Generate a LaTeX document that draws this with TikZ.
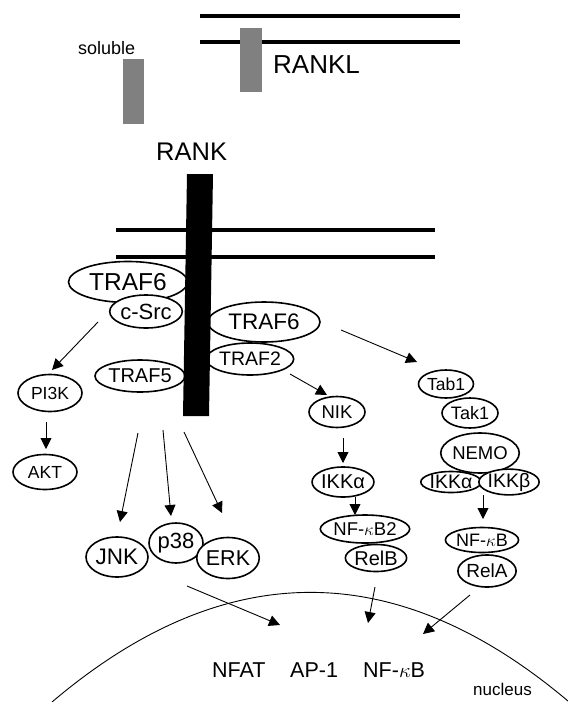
\documentclass[tikz,border=0pt]{standalone}
\usepackage{fontspec}
\setmainfont{Liberation Sans}
\usetikzlibrary{shapes.geometric,arrows.meta}
\newcommand{\fs}[1]{\fontsize{#1}{#1}\selectfont}
\begin{document}
\begin{tikzpicture}[x=1pt,y=-1pt,
  mol/.style={ellipse, draw, line width=1.6pt, fill=white, inner sep=0pt},
  memb/.style={line width=4pt},
  arr/.style={line width=0.9pt, -{Triangle[length=11pt,width=11pt]}},
  lbl/.style={inner sep=0pt, anchor=base west},
  grayrect/.style={fill=black!50}]
\useasboundingbox (0,0) rectangle (568,702);

% membranes
\draw[memb] (200,16) -- (460,16);
\draw[memb] (200,41.5) -- (460,41.5);
\draw[memb] (116,230) -- (435,230);
\draw[memb] (116,256.5) -- (435,256.5);

% RANKL / soluble
\fill[grayrect] (240,28) rectangle (262,92);
\fill[grayrect] (123,59) rectangle (144,124);
\node[lbl, font=\fs{18}] (sol) at (78,54) {soluble};
\node[lbl, font=\fs{26}] (rankl) at (273,73) {RANKL};
\node[lbl, font=\fs{25.5}] (rank) at (156,160) {RANK};

% adaptor molecules near receptor
\node[mol, minimum width=119pt, minimum height=41pt, font=\fs{24.5}] (traf6a) at (128,282) {TRAF6};
\node[mol, minimum width=65pt, minimum height=33pt, font=\fs{22}] (csrc) at (146,311.5) {c-Src};
\node[mol, minimum width=112pt, minimum height=40pt, font=\fs{22.5}] (traf6b) at (264,322) {TRAF6};
\node[mol, minimum width=85pt, minimum height=32pt, font=\fs{19.5}] (traf2) at (250,359) {TRAF2};
\node[mol, minimum width=90pt, minimum height=32pt, font=\fs{20}] (traf5) at (140,376) {TRAF5};

% RANK bar
\fill (187,174) -- (213,174) -- (209,416) -- (183,416) -- cycle;

% PI3K branch
\node[mol, minimum width=64pt, minimum height=37pt, font=\fs{17.5}] (pi3k) at (50,393) {PI3K};
\node[mol, minimum width=64pt, minimum height=35pt, font=\fs{17.5}] (akt) at (45,472) {AKT};

% NIK branch
\node[mol, minimum width=56pt, minimum height=31pt, font=\fs{18.5}] (nik) at (337,412) {NIK};
\node[mol, minimum width=57pt, minimum height=30pt, font=\fs{20}] (ikka1) at (343,482) {IKKα};
\node[mol, minimum width=76pt, minimum height=28pt, font=\fs{18.5}] (nfkb2) at (365,529) {NF-$\kappa$B2};
\node[mol, minimum width=55pt, minimum height=27pt, font=\fs{20}] (relb) at (376,558) {RelB};

% Tab1 branch
\node[mol, minimum width=55pt, minimum height=28pt, font=\fs{17.5}] (tab1) at (446,384) {Tab1};
\node[mol, minimum width=56pt, minimum height=30pt, font=\fs{18}] (tak1) at (470,413) {Tak1};
\node[mol, minimum width=70pt, minimum height=40pt, font=\fs{18.5}] (nemo) at (480,453) {NEMO};
\node[mol, minimum width=57pt, minimum height=21pt, font=\fs{19.5}] (ikka2) at (451,482) {IKKα};
\node[mol, minimum width=55pt, minimum height=21pt, font=\fs{19.5}] (ikkb) at (509,482) {IKKβ};
\node[mol, minimum width=70pt, minimum height=25pt, font=\fs{18}] (nfkb) at (482,540) {NF-$\kappa$B};
\node[mol, minimum width=58pt, minimum height=32pt, font=\fs{19}] (rela) at (487,571) {RelA};

% MAPKs
\node[mol, minimum width=54pt, minimum height=40pt, font=\fs{22}] (p38) at (176,543) {p38};
\node[mol, minimum width=62pt, minimum height=40pt, font=\fs{22.5}] (jnk) at (117,557) {JNK};
\node[mol, minimum width=60pt, minimum height=41pt, font=\fs{21.5}] (erk) at (228,558) {ERK};

% arrow end points
\coordinate (c1) at (98,322);   \coordinate (c1e) at (52,370);
\coordinate (c2) at (46,422);   \coordinate (c2e) at (46,449);
\coordinate (c3) at (290,374);  \coordinate (c3e) at (327,395);
\coordinate (c4) at (341,330);  \coordinate (c4e) at (417,362);
\coordinate (c5) at (343,438);  \coordinate (c5e) at (343,463);
\coordinate (c6) at (355,497);  \coordinate (c6e) at (355,515);
\coordinate (c7) at (483,495);  \coordinate (c7e) at (483,519);
\coordinate (c8) at (138,433);  \coordinate (c8e) at (120,522);
\coordinate (c9) at (163,430);  \coordinate (c9e) at (171,516);
\coordinate (c10) at (184,432); \coordinate (c10e) at (222,513);
\coordinate (c11) at (187,586); \coordinate (c11e) at (280,625);
\coordinate (c12) at (375,587); \coordinate (c12e) at (368,623);
\coordinate (c13) at (470,595); \coordinate (c13e) at (423,634);

\draw[arr] (c1) -- (c1e);
\draw[arr] (c2) -- (c2e);
\draw[arr] (c3) -- (c3e);
\draw[arr] (c4) -- (c4e);
\draw[arr] (c5) -- (c5e);
\draw[arr] (c6) -- (c6e);
\draw[arr] (c7) -- (c7e);
\draw[arr] (c8) -- (c8e);
\draw[arr] (c9) -- (c9e);
\draw[arr] (c10) -- (c10e);
\draw[arr] (c11) -- (c11e);
\draw[arr] (c12) -- (c12e);
\draw[arr] (c13) -- (c13e);

% nucleus
\coordinate (nl) at (52,702);
\coordinate (nr) at (568,701);
\draw[line width=0.9pt] (nl) .. controls (224,556) and (396,556) .. (nr);
\node[lbl, font=\fs{21.5}] (nfat) at (212,677) {NFAT};
\node[lbl, font=\fs{21.5}] (ap1) at (290,677) {AP-1};
\node[lbl, font=\fs{21.5}] (nfkbn) at (363,677) {NF-$\kappa$B};
\node[lbl, font=\fs{17}] (nuc) at (473,695) {nucleus};
\end{tikzpicture}
\end{document}
